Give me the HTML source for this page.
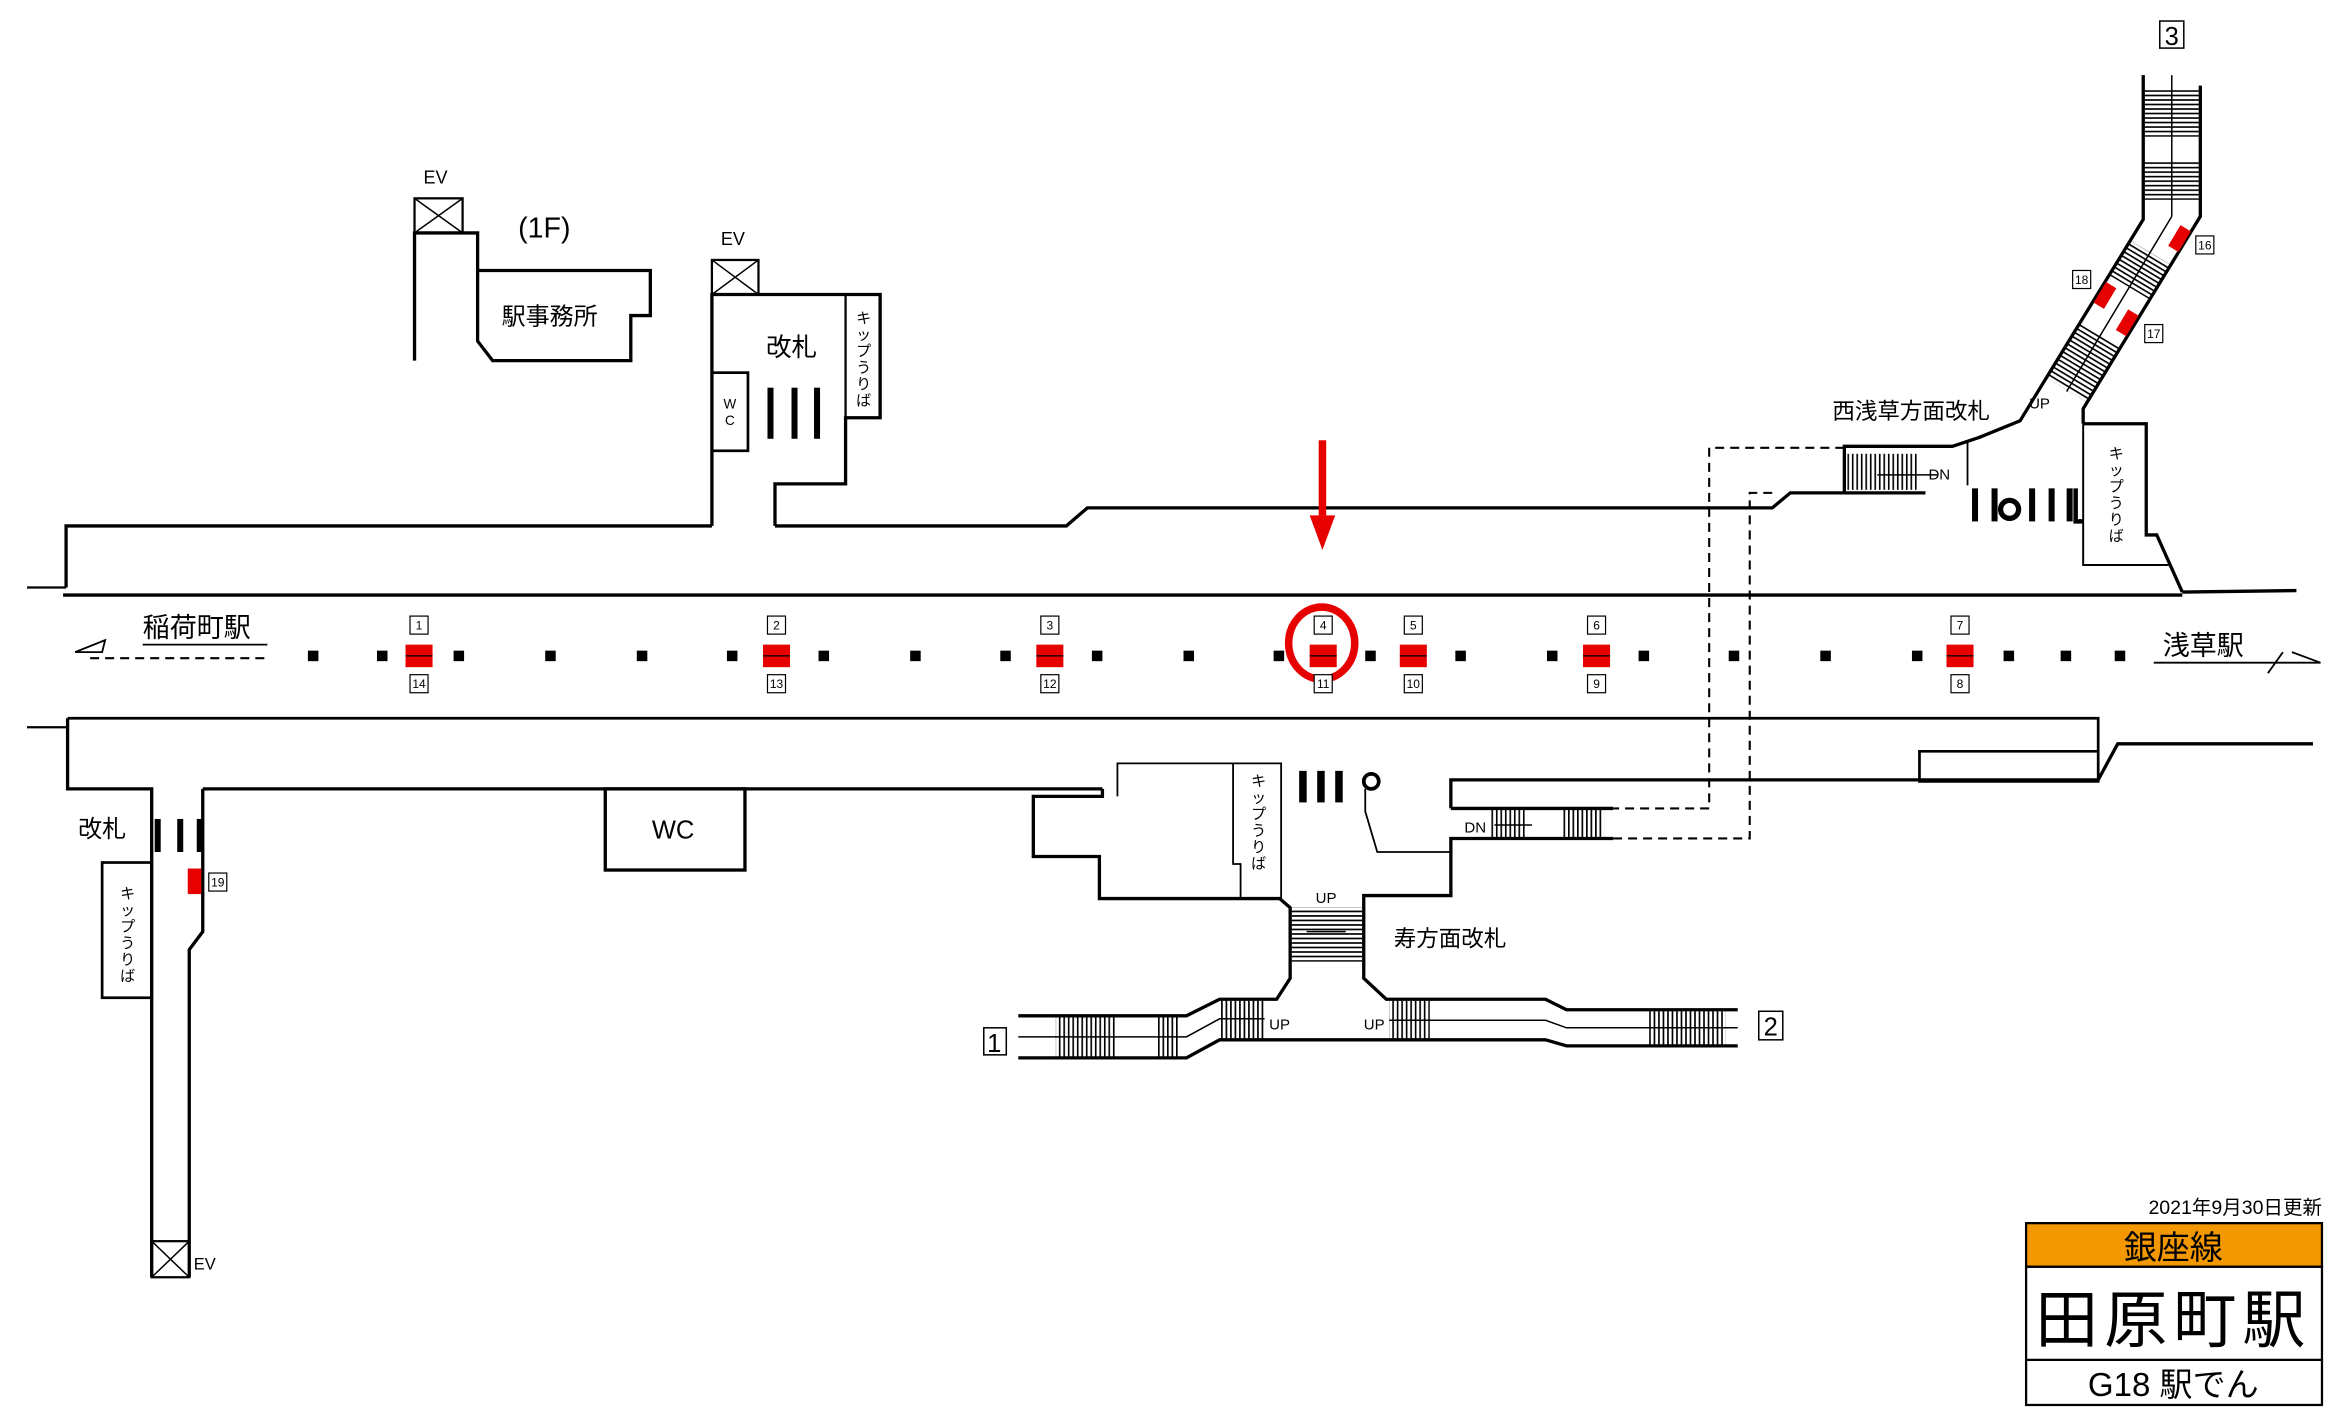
<!DOCTYPE html>
<html><head><meta charset="utf-8"><style>
html,body{margin:0;padding:0;background:#fff;}
svg{display:block;}
text{font-family:"Liberation Sans","Noto Sans CJK JP",sans-serif;}
</style></head><body>
<svg width="2343" height="1420" viewBox="0 0 1560 945" preserveAspectRatio="none" xmlns="http://www.w3.org/2000/svg">
<defs>
<pattern id="hs" width="4" height="3" patternUnits="userSpaceOnUse"><rect width="4" height="1.1" fill="#000"/></pattern>
<pattern id="vs" width="3" height="4" patternUnits="userSpaceOnUse"><rect width="1.1" height="4" fill="#000"/></pattern>
</defs>
<g fill="none" stroke="#000" stroke-width="2.2">
<polyline points="276,240 276,155 318,155 318,180 433,180 433,210 420,210 420,240 328,240 318,227 318,180"/>
<rect x="276" y="132" width="32" height="23" stroke-width="1.5"/>
<line x1="276" y1="132" x2="308" y2="155" stroke-width="1"/><line x1="308" y1="132" x2="276" y2="155" stroke-width="1"/>
<rect x="474" y="173" width="31" height="23" stroke-width="1.5"/>
<line x1="474" y1="173" x2="505" y2="196" stroke-width="1"/><line x1="505" y1="173" x2="474" y2="196" stroke-width="1"/>
<polyline points="474,350 474,196 586,196 586,278 563,278 563,322 516,322 516,350"/>
<rect x="474" y="248" width="24" height="52" stroke-width="1.8"/>
<line x1="563" y1="196" x2="563" y2="278" stroke-width="1.5"/>
<polyline points="44,391 44,350 474,350"/>
<polyline points="516,350 710,350 724,338 1180,338 1192,328 1282,328"/>
<line x1="18" y1="391" x2="44" y2="391" stroke-width="1.5"/>
<polyline points="42,396 1453,396"/>
<polyline points="1453,394 1529,393"/>
<polyline points="1228,328 1228,297 1300,297 1318,291 1345,280 1427,146 1427,50"/>
<polyline points="1465,57 1465,144 1387,272 1387,282"/>
<polyline points="1387,282 1429,282 1429,356 1436,356 1453,394"/>
<polyline points="1387,282 1387,376 1444,376" stroke-width="1.3"/>
<polyline points="1310,294 1310,323" stroke-width="1.2"/>
<polyline points="1382,325 1382,347 1387,347" stroke-width="3"/>
<polyline points="45,478 1397,478 1397,520 1278,520 1278,500 1397,500" stroke-width="1.8"/>
<line x1="18" y1="484" x2="45" y2="484" stroke-width="1.5"/>
<polyline points="45,478 45,525 101,525 101,850"/>
<polyline points="135,525 734,525"/>
<polyline points="135,525 135,620 126,632 126,850"/>
<rect x="101" y="826" width="25" height="24" stroke-width="1.5"/>
<line x1="101" y1="826" x2="126" y2="850" stroke-width="1"/><line x1="126" y1="826" x2="101" y2="850" stroke-width="1"/>
<rect x="68" y="574" width="33" height="90" stroke-width="1.8"/>
<rect x="403" y="525" width="93" height="54"/>
<polyline points="734,525 734,530 688,530 688,570 732,570 732,598 852,598 859,604 859,651 850,665 812,665 790,676 678,676"/>
<polyline points="678,704 790,704 812,692 1029,692 1043,696 1157,696"/>
<polyline points="1157,672 1043,672 1029,665 923,665 908,651 908,596 966,596 966,558 1074,558"/>
<polyline points="966,538 1074,538"/>
<polyline points="966,538 966,519 1397,519 1410,495 1540,495"/>
<polyline points="744,530 744,508 853,508 853,598" stroke-width="1.2"/>
<polyline points="821,508 821,575 826,575 826,598" stroke-width="1.2"/>
<polyline points="909,525 909,540 917,567 966,567" stroke-width="1.2"/>
<circle cx="913" cy="520" r="5" stroke-width="2.5"/>
</g>
<g fill="none" stroke="#000" stroke-width="1.4" stroke-dasharray="6,4">
<polyline points="1228,298 1138,298 1138,538 1074,538"/>
<polyline points="1180,328 1165,328 1165,558 1074,558"/>
<line x1="60" y1="438" x2="178" y2="438"/>
</g>
<rect x="1230" y="302" width="48" height="24" fill="url(#vs)"/>
<rect x="992" y="539" width="25" height="19" fill="url(#vs)"/>
<rect x="1041" y="539" width="27" height="19" fill="url(#vs)"/>
<rect x="860" y="604" width="47" height="36" fill="url(#hs)"/>
<rect x="703" y="677" width="40" height="27" fill="url(#vs)"/>
<rect x="770" y="677" width="15" height="27" fill="url(#vs)"/>
<rect x="812" y="666" width="30" height="26" fill="url(#vs)"/>
<rect x="925" y="666" width="27" height="26" fill="url(#vs)"/>
<rect x="1098" y="673" width="51" height="23" fill="url(#vs)"/>
<rect x="1428" y="60" width="36" height="31" fill="url(#hs)"/>
<rect x="1428" y="107" width="36" height="26" fill="url(#hs)"/>
<line x1="1446" y1="50" x2="1446" y2="144" stroke="#000" stroke-width="1"/>
<g transform="translate(1446,144) rotate(31)">
<rect x="-16" y="28" width="32" height="27" fill="url(#hs)"/>
<rect x="-16" y="92" width="32" height="43" fill="url(#hs)"/>
<line x1="0" y1="0" x2="0" y2="136" stroke="#000" stroke-width="1"/>
<rect x="8" y="2" width="8" height="16" fill="#e60000"/>
<rect x="-15" y="60" width="8" height="16" fill="#e60000"/>
<rect x="7" y="68" width="8" height="16" fill="#e60000"/>
</g>
<line x1="870" y1="620" x2="896" y2="620" stroke="#000" stroke-width="1"/>
<polyline points="678,690 790,690 812,678 842,678" fill="none" stroke="#000" stroke-width="1"/>
<polyline points="925,679 1029,679 1043,684 1157,684" fill="none" stroke="#000" stroke-width="1"/>
<line x1="1250" y1="316" x2="1290" y2="316" stroke="#000" stroke-width="1"/>
<line x1="995" y1="549" x2="1020" y2="549" stroke="#000" stroke-width="1"/>
<g fill="#000">
<rect x="511" y="258" width="4" height="34"/><rect x="527" y="258" width="4" height="34"/><rect x="542" y="258" width="4" height="34"/>
<rect x="1313" y="325" width="4" height="22"/><rect x="1326" y="325" width="4" height="22"/>
<rect x="1351" y="325" width="4" height="22"/><rect x="1364" y="325" width="4" height="22"/><rect x="1376" y="325" width="4" height="22"/>
<rect x="865" y="513" width="5" height="21"/><rect x="877" y="513" width="5" height="21"/><rect x="889" y="513" width="5" height="21"/>
<rect x="103" y="545" width="4" height="22"/><rect x="118" y="545" width="4" height="22"/><rect x="131" y="545" width="4" height="22"/>
</g>
<circle cx="1338" cy="339" r="6" fill="none" stroke="#000" stroke-width="3.5"/>
<rect x="878" y="293" width="5" height="50" fill="#e60000"/>
<polygon points="872,343 889,343 880.5,366" fill="#e60000"/>
<ellipse cx="880" cy="428" rx="22" ry="24" fill="none" stroke="#e60000" stroke-width="5"/>
<g fill="#000">
<rect x="205" y="433" width="7" height="7"/><rect x="251" y="433" width="7" height="7"/><rect x="302" y="433" width="7" height="7"/>
<rect x="363" y="433" width="7" height="7"/><rect x="424" y="433" width="7" height="7"/><rect x="484" y="433" width="7" height="7"/>
<rect x="545" y="433" width="7" height="7"/><rect x="606" y="433" width="7" height="7"/><rect x="666" y="433" width="7" height="7"/>
<rect x="727" y="433" width="7" height="7"/><rect x="788" y="433" width="7" height="7"/><rect x="848" y="433" width="7" height="7"/>
<rect x="909" y="433" width="7" height="7"/><rect x="969" y="433" width="7" height="7"/><rect x="1030" y="433" width="7" height="7"/>
<rect x="1091" y="433" width="7" height="7"/><rect x="1151" y="433" width="7" height="7"/><rect x="1212" y="433" width="7" height="7"/>
<rect x="1273" y="433" width="7" height="7"/><rect x="1334" y="433" width="7" height="7"/><rect x="1372" y="433" width="7" height="7"/>
<rect x="1408" y="433" width="7" height="7"/>
</g>
<g fill="#e60000">
<rect x="270" y="429" width="18" height="15"/><rect x="508" y="429" width="18" height="15"/><rect x="690" y="429" width="18" height="15"/>
<rect x="872" y="429" width="18" height="15"/><rect x="932" y="429" width="18" height="15"/><rect x="1054" y="429" width="18" height="15"/>
<rect x="1296" y="429" width="18" height="15"/>
<rect x="125" y="578" width="9" height="17"/>
</g>
<g stroke="#000" stroke-width="0.8">
<line x1="270" y1="436.5" x2="288" y2="436.5"/><line x1="508" y1="436.5" x2="526" y2="436.5"/><line x1="690" y1="436.5" x2="708" y2="436.5"/>
<line x1="872" y1="436.5" x2="890" y2="436.5"/><line x1="932" y1="436.5" x2="950" y2="436.5"/><line x1="1054" y1="436.5" x2="1072" y2="436.5"/><line x1="1296" y1="436.5" x2="1314" y2="436.5"/>
</g>
<g font-size="8" text-anchor="middle" fill="#000">
<g fill="#fff" stroke="#000" stroke-width="0.8">
<rect x="273" y="410" width="12" height="12"/><rect x="511" y="410" width="12" height="12"/><rect x="693" y="410" width="12" height="12"/><rect x="875" y="410" width="12" height="12"/><rect x="935" y="410" width="12" height="12"/><rect x="1057" y="410" width="12" height="12"/><rect x="1299" y="410" width="12" height="12"/>
<rect x="273" y="449" width="12" height="12"/><rect x="511" y="449" width="12" height="12"/><rect x="693" y="449" width="12" height="12"/><rect x="875" y="449" width="12" height="12"/><rect x="935" y="449" width="12" height="12"/><rect x="1057" y="449" width="12" height="12"/><rect x="1299" y="449" width="12" height="12"/>
<rect x="139" y="581" width="12" height="12"/><rect x="1380" y="180" width="12" height="12"/><rect x="1462" y="157" width="12" height="12"/><rect x="1428" y="216" width="12" height="12"/>
</g>
<text x="279" y="419">1</text><text x="517" y="419">2</text><text x="699" y="419">3</text><text x="881" y="419">4</text><text x="941" y="419">5</text><text x="1063" y="419">6</text><text x="1305" y="419">7</text>
<text x="279" y="458">14</text><text x="517" y="458">13</text><text x="699" y="458">12</text><text x="881" y="458">11</text><text x="941" y="458">10</text><text x="1063" y="458">9</text><text x="1305" y="458">8</text>
<text x="145" y="590">19</text><text x="1386" y="189">18</text><text x="1468" y="166">16</text><text x="1434" y="225">17</text>
</g>
<g font-size="17" text-anchor="middle" fill="#000">
<rect x="1438" y="14" width="16" height="18" fill="none" stroke="#000"/><text x="1446" y="30">3</text>
<rect x="655" y="684" width="15" height="18" fill="none" stroke="#000"/><text x="662" y="700">1</text>
<rect x="1171" y="673" width="16" height="19" fill="none" stroke="#000"/><text x="1179" y="689">2</text>
</g>
<g fill="#000">
<text x="282" y="122" font-size="12">EV</text>
<text x="480" y="163" font-size="12">EV</text>
<text x="129" y="845" font-size="11">EV</text>
<text x="345" y="158" font-size="19">(1F)</text>
<text x="334" y="216" font-size="16">駅事務所</text>
<text x="510" y="237" font-size="17">改札</text>
<text x="52" y="557" font-size="16">改札</text>
<text x="1220" y="279" font-size="15">西浅草方面改札</text>
<text x="928" y="630" font-size="15">寿方面改札</text>
<text x="434" y="558" font-size="17">WC</text>
<text x="486" y="272" font-size="9" text-anchor="middle">W</text>
<text x="486" y="283" font-size="9" text-anchor="middle">C</text>
<text x="95" y="424" font-size="18">稲荷町駅</text>
<text x="1440" y="436" font-size="18">浅草駅</text>
<text x="1284" y="319" font-size="10">DN</text>
<text x="975" y="554" font-size="10">DN</text>
<text x="1351" y="272" font-size="10">UP</text>
<text x="876" y="601" font-size="10">UP</text>
<text x="845" y="685" font-size="10">UP</text>
<text x="908" y="685" font-size="10">UP</text>
<g font-size="10" text-anchor="middle">
<text x="575" y="215">キ</text><text x="575" y="226">ッ</text><text x="575" y="237">プ</text><text x="575" y="248">う</text><text x="575" y="259">り</text><text x="575" y="270">ば</text>
<text x="838" y="523">キ</text><text x="838" y="534">ッ</text><text x="838" y="545">プ</text><text x="838" y="556">う</text><text x="838" y="567">り</text><text x="838" y="578">ば</text>
<text x="1409" y="305">キ</text><text x="1409" y="316">ッ</text><text x="1409" y="327">プ</text><text x="1409" y="338">う</text><text x="1409" y="349">り</text><text x="1409" y="360">ば</text>
<text x="85" y="598">キ</text><text x="85" y="609">ッ</text><text x="85" y="620">プ</text><text x="85" y="631">う</text><text x="85" y="642">り</text><text x="85" y="653">ば</text>
</g>
</g>
<g fill="none" stroke="#000" stroke-width="1.2">
<polyline points="95,429 178,429"/><polyline points="50,434 70,426 68,434 50,434"/>
<polyline points="1434,441 1545,441 1526,434"/><line x1="1510" y1="448" x2="1520" y2="434"/>
</g>
<text x="1546" y="808" font-size="13" text-anchor="end" fill="#000">2021年9月30日更新</text>
<rect x="1349" y="814" width="197" height="29" fill="#f39800" stroke="#000" stroke-width="1.5"/>
<text x="1447" y="838" font-size="22" text-anchor="middle" fill="#000">銀座線</text>
<rect x="1349" y="843" width="197" height="92" fill="none" stroke="#000" stroke-width="1.5"/>
<line x1="1349" y1="905" x2="1546" y2="905" stroke="#000" stroke-width="1.5"/>
<text x="1447" y="893" font-size="42" text-anchor="middle" fill="#000" letter-spacing="4">田原町駅</text>
<text x="1447" y="929" font-size="22" text-anchor="middle" fill="#000">G18 駅でん</text>
</svg>
</body></html>
